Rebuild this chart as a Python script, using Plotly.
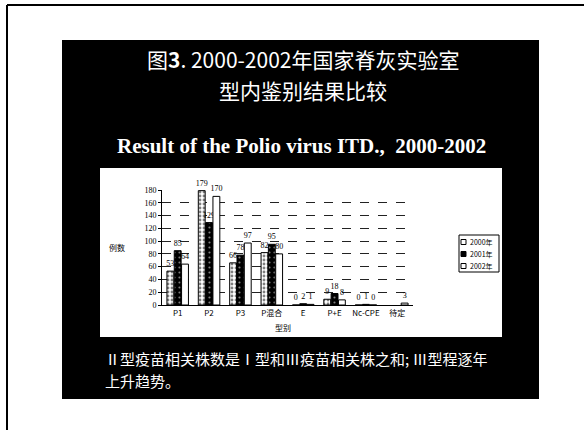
import plotly.graph_objects as go

categories = ["P1", "P2", "P3", "P混合", "E", "P+E", "Nc-CPE", "待定"]
series_names = ["2000年", "2001年", "2002年"]
y2000 = [53, 179, 66, 82, 0, 9, 0, None]
y2001 = [85, 129, 78, 95, 2, 18, 1, None]
y2002 = [64, 170, 97, 80, 1, 8, 0, 3]
y_ticks = [0, 20, 40, 60, 80, 100, 120, 140, 160, 180]

W, H = 584, 430
L, R, T, B = 162, 413, 190, 305


def px(x):
    return (x - L) / (R - L)


def py(y):
    return (B - y) / (B - T)


serif = "Liberation Serif, DejaVu Serif, serif"
cjk = "Noto Sans CJK SC, sans-serif"

fig = go.Figure()
styles = [
    dict(color="white", pattern=dict(shape=".", fgcolor="black", bgcolor="white", size=4, solidity=0.4)),
    dict(color="black", pattern=dict(shape=".", fgcolor="white", bgcolor="black", size=5, solidity=0.15)),
    dict(color="white"),
]
for name, vals, st in zip(series_names, [y2000, y2001, y2002], styles):
    fig.add_trace(go.Bar(
        x=categories, y=vals, name=name,
        marker=dict(line=dict(color="black", width=1), **st),
        text=[("" if v is None else str(v)) for v in vals],
        textposition="outside", cliponaxis=False, constraintext="none",
        textfont=dict(size=8, family=serif, color="black"),
        showlegend=False,
    ))

shapes = [
    # outer frame lines
    dict(type="line", xref="paper", yref="paper", x0=px(7), x1=px(584), y0=py(5), y1=py(5),
         line=dict(color="black", width=2), layer="below"),
    dict(type="line", xref="paper", yref="paper", x0=px(7), x1=px(7), y0=py(5), y1=py(430),
         line=dict(color="black", width=2), layer="below"),
    # black slide
    dict(type="rect", xref="paper", yref="paper", x0=px(62), x1=px(539), y0=py(40), y1=py(399),
         fillcolor="black", line=dict(width=0), layer="below"),
    # white chart box
    dict(type="rect", xref="paper", yref="paper", x0=px(100), x1=px(502), y0=py(168), y1=py(337),
         fillcolor="white", line=dict(width=0), layer="below"),
    # legend box
    dict(type="rect", xref="paper", yref="paper", x0=px(459), x1=px(499), y0=py(235), y1=py(272),
         fillcolor="white", line=dict(color="black", width=1)),
]


def txt(text, x, y, size, color, family, xanchor="center"):
    return dict(text=text, x=px(x), y=py(y), xref="paper", yref="paper", showarrow=False,
                font=dict(size=size, color=color, family=family), xanchor=xanchor, yanchor="middle")


annotations = [
    txt("图<b>3</b>. 2000-2002年国家脊灰实验室", 303, 59, 21, "white", cjk),
    txt("型内鉴别结果比较", 303, 90, 21, "white", cjk),
    txt("<b>Result of the Polio virus ITD.,  2000-2002</b>", 301, 146, 21, "white", serif),
    txt("Ⅱ型疫苗相关株数是Ⅰ型和Ⅲ疫苗相关株之和; Ⅲ型程逐年", 103, 358, 15, "white", cjk, "left"),
    txt("上升趋势。", 103, 380, 15, "white", cjk, "left"),
    txt("例数", 117, 247, 8, "black", cjk),
    txt("型别", 283, 327, 8, "black", cjk),
]

# custom compact legend
leg_y = [242, 254, 266]
leg_fill = ["white", "black", "white"]
for name, yy, fc in zip(series_names, leg_y, leg_fill):
    shapes.append(dict(type="rect", xref="paper", yref="paper", x0=px(461), x1=px(466),
                       y0=py(yy - 2.5), y1=py(yy + 2.5), fillcolor=fc, line=dict(color="black", width=1)))
    annotations.append(txt(name, 468, yy, 7, "black", cjk, "left"))

fig.update_layout(
    width=W, height=H,
    margin=dict(l=L, r=W - R, t=T, b=H - B, pad=0),
    paper_bgcolor="white", plot_bgcolor="rgba(0,0,0,0)",
    barmode="group", bargap=0.3, bargroupgap=0.06,
    shapes=shapes, annotations=annotations,
    showlegend=False,
)
fig.update_yaxes(range=[0, 180], tickvals=y_ticks, showgrid=True, gridcolor="#222",
                 griddash="dash", gridwidth=1, showline=True, linecolor="black", linewidth=1,
                 ticks="outside", ticklen=3, tickcolor="black",
                 tickfont=dict(size=8, family=serif, color="black"), zeroline=False)
fig.update_xaxes(showline=True, linecolor="black", linewidth=1, ticks="",
                 tickfont=dict(size=8, family=cjk, color="black"))

fig.write_html("out.html", config={"displayModeBar": False},
               post_script="document.body.style.margin='0px';")
